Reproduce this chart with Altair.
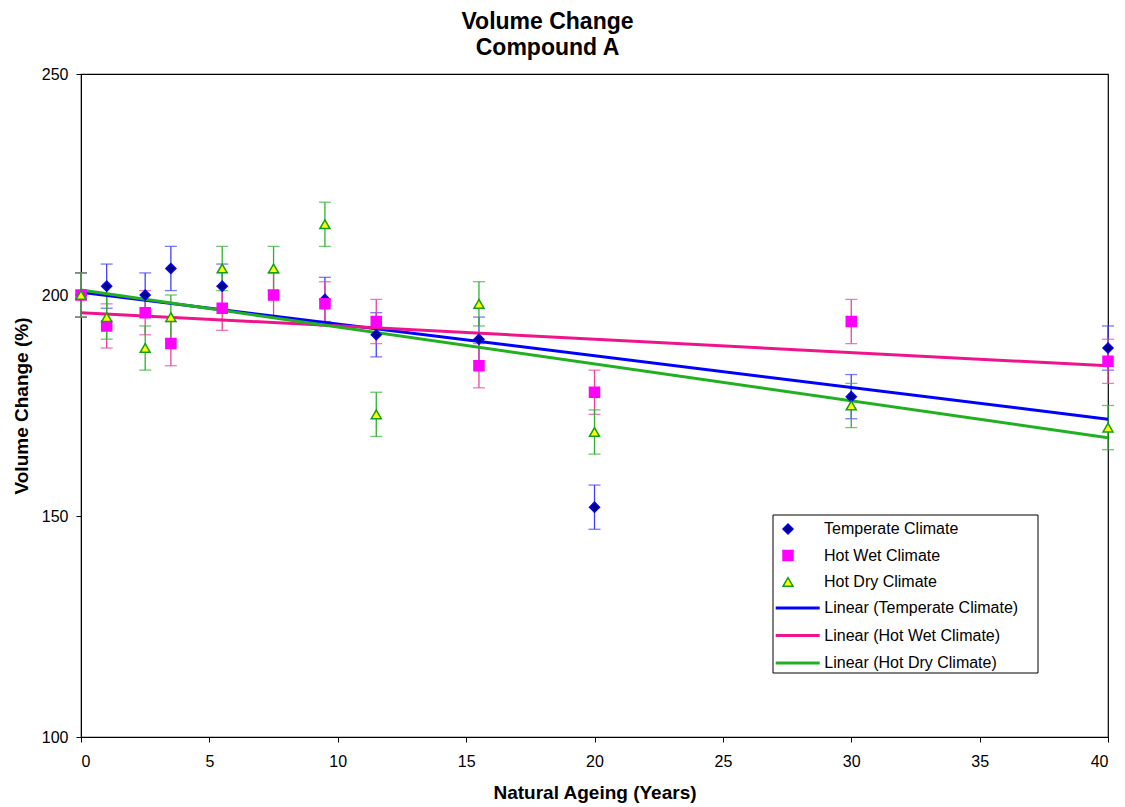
import altair as alt
import pandas as pd

# ---- data ----
series_names = ["Temperate Climate", "Hot Wet Climate", "Hot Dry Climate"]
years_temperate = [0, 1, 2.5, 3.5, 5.5, 9.5, 11.5, 15.5, 20, 30, 40]
temperate = [200, 202, 200, 206, 202, 199, 191, 190, 152, 177, 188]
years_hotwet = [0, 1, 2.5, 3.5, 5.5, 7.5, 9.5, 11.5, 15.5, 20, 30, 40]
hotwet = [200, 193, 196, 189, 197, 200, 198, 194, 184, 178, 194, 185]
years_hotdry = [0, 1, 2.5, 3.5, 5.5, 7.5, 9.5, 11.5, 15.5, 20, 30, 40]
hotdry = [200, 195, 188, 195, 206, 206, 216, 173, 198, 169, 175, 170]
error = 5
x_ticks = [0, 5, 10, 15, 20, 25, 30, 35, 40]
y_ticks = [100, 150, 200, 250]

rows = []
for name, xs, ys in [(series_names[0], years_temperate, temperate),
                     (series_names[1], years_hotwet, hotwet),
                     (series_names[2], years_hotdry, hotdry)]:
    for x, y in zip(xs, ys):
        rows.append({"series": name, "year": x, "value": y,
                     "lo": y - error, "hi": y + error})
df = pd.DataFrame(rows)

FONT = "Liberation Sans"
line_names = ["Linear (" + s + ")" for s in series_names]
line_colors = ["#0000ff", "#f0148c", "#22b022"]
err_colors = ["#4040ff", "#f0409a", "#30b030"]

xscale = alt.Scale(domain=[0, 40], nice=False)
yscale = alt.Scale(domain=[100, 250], nice=False)
xaxis = alt.Axis(values=x_ticks, title="Natural Ageing (Years)", titlePadding=14,
                 labelPadding=11)
yaxis = alt.Axis(values=y_ticks, title="Volume Change (%)", titlePadding=10)

base = alt.Chart(df)

frame = alt.Chart(pd.DataFrame({"k": [0]})).mark_rect(
    fill="white", stroke="black", strokeWidth=1
).encode(x=alt.value(692), x2=alt.value(957), y=alt.value(441), y2=alt.value(599))

layers = [frame]
for name, col in zip(series_names, err_colors):
    sub = base.transform_filter(alt.datum.series == name)
    layers.append(sub.mark_rule(color=col, strokeWidth=1.3).encode(
        x=alt.X("year:Q", scale=xscale, axis=xaxis),
        y=alt.Y("lo:Q", scale=yscale, axis=yaxis),
        y2="hi:Q"))
    for fld in ["lo", "hi"]:
        layers.append(sub.mark_tick(color=col, orient="horizontal", size=12, thickness=1.3).encode(
            x=alt.X("year:Q", scale=xscale),
            y=alt.Y(fld + ":Q", scale=yscale)))

lines = base.transform_regression(
    "year", "value", groupby=["series"], extent=[0, 40]
).transform_calculate(
    line="'Linear (' + datum.series + ')'"
).mark_line(strokeWidth=3).encode(
    x=alt.X("year:Q", scale=xscale),
    y=alt.Y("value:Q", scale=yscale),
    color=alt.Color("line:N", scale=alt.Scale(domain=line_names, range=line_colors),
                    legend=alt.Legend(title=None, orient="none", legendX=707.7, legendY=525,
                                      symbolType="M-3,0L3,0", symbolSize=215,
                                      symbolStrokeWidth=3,
                                      labelFontSize=16, labelFont=FONT, rowPadding=10.5,
                                      labelOffset=17.6, padding=0, labelLimit=400)),
    detail="series:N")
layers.append(lines)

pleg = alt.Legend(title=None, orient="none", legendX=699, legendY=447,
                  symbolSize=100, labelFontSize=16, labelFont=FONT, rowPadding=10.5,
                  labelOffset=28, padding=0, symbolStrokeWidth=1.5, labelLimit=400)
points = base.mark_point(filled=False, size=100, strokeWidth=1.5, opacity=1).encode(
    x=alt.X("year:Q", scale=xscale),
    y=alt.Y("value:Q", scale=yscale),
    shape=alt.Shape("series:N", scale=alt.Scale(domain=series_names,
                                                range=["diamond", "square", "triangle-up"]),
                    legend=pleg),
    fill=alt.Fill("series:N", scale=alt.Scale(domain=series_names,
                                              range=["#000080", "#ff00ff", "#ffff00"]),
                  legend=pleg),
    stroke=alt.Stroke("series:N", scale=alt.Scale(domain=series_names,
                                                  range=["#0000ff", "#ff00ff", "#10a010"]),
                      legend=pleg))
layers.append(points)

chart = alt.layer(*layers).properties(
    width=1027, height=663,
    padding={"left": 81, "top": 74, "right": 17, "bottom": 70},
    autosize=alt.AutoSizeParams(type="none"),
    title=alt.TitleParams(["Volume Change", "Compound A"], font=FONT, fontSize=23,
                          fontWeight="bold", anchor="middle", dx=-47, offset=6,
                          lineHeight=26, color="black"),
).configure_view(stroke="black", strokeWidth=1.2).configure_axis(
    grid=False, domainColor="black", tickColor="black", tickSize=5,
    labelFont=FONT, labelFontSize=16, labelColor="black", labelPadding=8,
    titleFont=FONT, titleFontSize=19, titleFontWeight="bold", titleColor="black"
).configure_legend(labelColor="black")

chart.save("out.html", embed_options={"renderer": "svg", "actions": False})
